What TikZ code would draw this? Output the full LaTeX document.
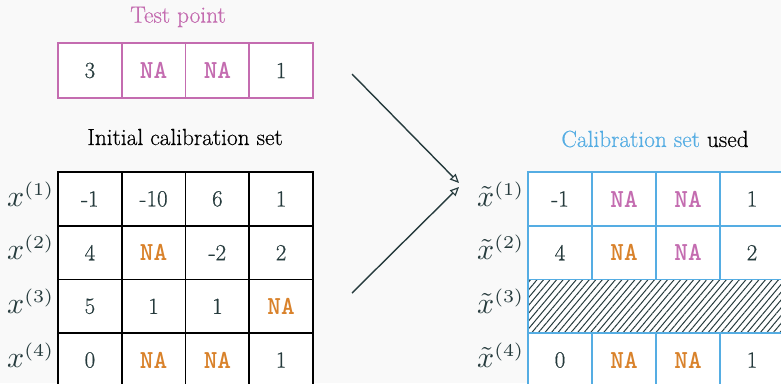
\RequirePackage{fix-cm}
\documentclass[tikz,border=0pt]{standalone}
\usepackage{graphicx}
\usepackage{fontspec}
\setmainfont{Latin Modern Roman}[FakeBold=0.5]
\newfontfamily\namono{lmmonolt10-bold}[Extension=.otf]
\usetikzlibrary{arrows.meta,patterns.meta}
\DeclareMathSizes{10}{10}{6}{5}

\definecolor{bgc}{HTML}{F9F9F9}
\definecolor{ink}{HTML}{263B3D}
\definecolor{pinkc}{HTML}{C46CB0}
\definecolor{orangec}{HTML}{D9822B}
\definecolor{bluec}{HTML}{55ADE3}

\newcommand{\rowname}[1]{\scalebox{3}{$#1$}}

\tikzset{
  cell/.style={draw, fill=white, line width=1.6pt, inner sep=0pt,
    minimum width=63.75pt, minimum height=53.7pt, text=ink,
    font=\fontsize{23}{26}\selectfont},
  testcell/.style={cell, draw=pinkc, minimum height=55pt},
  leftcell/.style={cell, draw=black},
  rightcell/.style={cell, draw=bluec, minimum width=64pt},
  natag/.style={font=\namono\fontsize{26}{30}\selectfont},
  nao/.style={natag, text=orangec},
  nap/.style={natag, text=pinkc},
  rowlab/.style={text=ink, inner sep=0pt, anchor=base west,
    font=\fontsize{10}{12}\selectfont},
  title/.style={font=\fontsize{23.3}{28}\selectfont},
  flow/.style={draw=ink, line width=1.4pt,
    -{Triangle[open, length=9pt, width=8pt, line width=1.2pt]}}
}

\begin{document}
\begin{tikzpicture}[x=1pt, y=-1pt]
  \clip (0,0) rectangle (781,383);
  \fill[bgc] (0,0) rectangle (781,383);

  % test point row
  \node[title, text=pinkc] (ttest) at (178,17) {Test point};
  \node[testcell] (t1) at (89.9,70.5) {3};
  \node[testcell, nap] (t2) at (153.6,70.5) {NA};
  \node[testcell, nap] (t3) at (217.4,70.5) {NA};
  \node[testcell] (t4) at (281.1,70.5) {1};

  % initial calibration set
  \node[title, text=black] (tinit) at (185,137) {Initial calibration set};

  \node[leftcell] (a11) at (89.9,198.9) {-1};
  \node[leftcell] (a12) at (153.6,198.9) {-10};
  \node[leftcell] (a13) at (217.4,198.9) {6};
  \node[leftcell] (a14) at (281.1,198.9) {1};

  \node[leftcell] (a21) at (89.9,252.6) {4};
  \node[leftcell, nao] (a22) at (153.6,252.6) {NA};
  \node[leftcell] (a23) at (217.4,252.6) {-2};
  \node[leftcell] (a24) at (281.1,252.6) {2};

  \node[leftcell] (a31) at (89.9,306.3) {5};
  \node[leftcell] (a32) at (153.6,306.3) {1};
  \node[leftcell] (a33) at (217.4,306.3) {1};
  \node[leftcell, nao] (a34) at (281.1,306.3) {NA};

  \node[leftcell] (a41) at (89.9,360) {0};
  \node[leftcell, nao] (a42) at (153.6,360) {NA};
  \node[leftcell, nao] (a43) at (217.4,360) {NA};
  \node[leftcell] (a44) at (281.1,360) {1};

  \node[rowlab] (la1) at (7,206) {\rowname{x^{(1)}}};
  \node[rowlab] (la2) at (7,259.7) {\rowname{x^{(2)}}};
  \node[rowlab] (la3) at (7,313.4) {\rowname{x^{(3)}}};
  \node[rowlab] (la4) at (7,367.1) {\rowname{x^{(4)}}};

  % calibration set used
  \node[title] (tused) at (655,139) {\textcolor{bluec}{Calibration set} used};

  \node[rightcell] (b11) at (560,198.9) {-1};
  \node[rightcell, nap] (b12) at (624,198.9) {NA};
  \node[rightcell, nap] (b13) at (688,198.9) {NA};
  \node[rightcell] (b14) at (752,198.9) {1};

  \node[rightcell] (b21) at (560,252.6) {4};
  \node[rightcell, nao] (b22) at (624,252.6) {NA};
  \node[rightcell, nap] (b23) at (688,252.6) {NA};
  \node[rightcell] (b24) at (752,252.6) {2};

  \node[rightcell, minimum width=256pt,
    pattern={Lines[angle=50, distance=5pt, line width=1pt]}, pattern color=ink,
    preaction={fill=white}] (b3) at (656,306.3) {};

  \node[rightcell] (b41) at (560,360) {0};
  \node[rightcell, nao] (b42) at (624,360) {NA};
  \node[rightcell, nao] (b43) at (688,360) {NA};
  \node[rightcell] (b44) at (752,360) {1};

  \node[rowlab] (lb1) at (477,206) {\rowname{\tilde{x}^{(1)}}};
  \node[rowlab] (lb2) at (477,259.7) {\rowname{\tilde{x}^{(2)}}};
  \node[rowlab] (lb3) at (477,313.4) {\rowname{\tilde{x}^{(3)}}};
  \node[rowlab] (lb4) at (477,367.1) {\rowname{\tilde{x}^{(4)}}};

  % arrows merging into the used set
  \coordinate (s1) at (352,74);
  \coordinate (s2) at (352,293);
  \coordinate (m1) at (459,183);
  \coordinate (m2) at (459,187);
  \draw[flow] (s1) -- (m1);
  \draw[flow] (s2) -- (m2);
\end{tikzpicture}
\end{document}
